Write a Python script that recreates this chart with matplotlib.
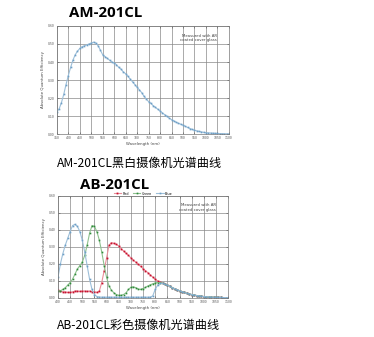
import numpy as np
import matplotlib
matplotlib.use("Agg")
import matplotlib.pyplot as plt

plt.rcParams['font.family'] = ['Noto Sans CJK SC', 'DejaVu Sans']

# mono camera, 350..1100 nm step 10
wl_mono = list(range(350, 1101, 10))
qe_mono = [0.125, 0.14, 0.175, 0.22, 0.275, 0.325, 0.37, 0.41, 0.44, 0.46,
           0.475, 0.485, 0.49, 0.495, 0.50, 0.505, 0.51, 0.505, 0.49, 0.465,
           0.44, 0.43, 0.42, 0.41, 0.40, 0.395, 0.385, 0.37, 0.36, 0.345,
           0.335, 0.32, 0.305, 0.29, 0.275, 0.26, 0.245, 0.23, 0.21, 0.195,
           0.18, 0.17, 0.158, 0.148, 0.138, 0.128, 0.118, 0.108, 0.098, 0.089,
           0.08, 0.073, 0.066, 0.06, 0.055, 0.05, 0.043, 0.037, 0.031, 0.026,
           0.022, 0.018, 0.015, 0.012, 0.01, 0.008, 0.007, 0.006, 0.005, 0.004,
           0.0035, 0.003, 0.0025, 0.002, 0.002, 0.0015]

# color camera, 400..1100 nm step 10
wl_col = list(range(400, 1101, 10))
tail = [0.075, 0.068, 0.061, 0.054, 0.048, 0.042, 0.037, 0.032, 0.027, 0.023,
        0.02, 0.017, 0.014, 0.012, 0.01, 0.008, 0.007, 0.006, 0.005, 0.004,
        0.004, 0.003, 0.003, 0.002, 0.002, 0.002]
qe_red = [0.045, 0.04, 0.035, 0.035, 0.032, 0.032, 0.035, 0.04, 0.04, 0.038,
          0.04, 0.04, 0.038, 0.04, 0.036, 0.036, 0.032, 0.04, 0.09, 0.16,
          0.235, 0.31, 0.325, 0.32, 0.315, 0.305, 0.29, 0.275, 0.262, 0.25,
          0.235, 0.222, 0.21, 0.197, 0.185, 0.172, 0.16, 0.148, 0.135, 0.122,
          0.11, 0.1, 0.093, 0.087, 0.08] + tail
qe_green = [0.04, 0.042, 0.05, 0.06, 0.075, 0.09, 0.11, 0.14, 0.17, 0.19,
            0.21, 0.25, 0.31, 0.38, 0.425, 0.42, 0.39, 0.34, 0.27, 0.19,
            0.12, 0.07, 0.045, 0.03, 0.02, 0.015, 0.015, 0.02, 0.03, 0.05,
            0.062, 0.065, 0.06, 0.052, 0.05, 0.055, 0.062, 0.07, 0.077, 0.083,
            0.088, 0.09, 0.09, 0.087, 0.08] + tail
qe_blue = [0.12, 0.2, 0.26, 0.31, 0.35, 0.39, 0.425, 0.432, 0.42, 0.39,
           0.34, 0.27, 0.19, 0.11, 0.05, 0.02, 0.008, 0.005, 0.004, 0.004,
           0.004, 0.004, 0.004, 0.004, 0.004, 0.004, 0.004, 0.004, 0.004, 0.004,
           0.004, 0.004, 0.004, 0.004, 0.004, 0.004, 0.004, 0.004, 0.004, 0.012,
           0.05, 0.075, 0.085, 0.085, 0.08] + tail

fig = plt.figure(figsize=(3.74, 3.37), dpi=100)


def style_axes(ax, xmin, xmax):
    ax.set_xlim(xmin, xmax)
    ax.set_ylim(0, 0.6)
    ax.set_xticks(range(xmin, xmax + 1, 50))
    ax.set_yticks(np.arange(0, 0.61, 0.1))
    ax.set_yticklabels(["%.2f" % v for v in np.arange(0, 0.61, 0.1)])
    ax.tick_params(labelsize=2.6, length=1.5, width=0.4, pad=1.5,
                   direction="in", top=True, right=True, colors="#555555")
    ax.grid(True, color="#888888", linewidth=0.5)
    for s in ax.spines.values():
        s.set_color("#777777")
        s.set_linewidth(0.5)
    ax.set_xlabel("Wavelength (nm)", fontsize=2.8, labelpad=1.5,
                  color="#444444", family="DejaVu Sans")
    ax.set_ylabel("Absolute Quantum Efficiency", fontsize=2.8, labelpad=2,
                  color="#444444", family="DejaVu Sans")
    ax.text(0.93, 0.93, "Measured with AR\ncoated cover glass",
            transform=ax.transAxes, ha="right", va="top", fontsize=2.8,
            color="#444444", family="DejaVu Sans")


# top chart
ax1 = fig.add_axes([0.152, 0.602, 0.460, 0.321])
ax1.plot(wl_mono, qe_mono, color="#9dbfd9", linewidth=0.8,
         marker="s", markersize=1.2, markerfacecolor="#6e9fc6",
         markeredgewidth=0)
style_axes(ax1, 350, 1100)
fig.text(0.184, 0.962, "AM-201CL", fontsize=10.8, fontweight="bold",
         family="Open Sans", ha="left", va="center")
fig.text(0.152, 0.516, "AM-201CL黑白摄像机光谱曲线", fontsize=8.7,
         ha="left", va="center")

# bottom chart
ax2 = fig.add_axes([0.155, 0.116, 0.455, 0.303])
ax2.plot(wl_col, qe_red, color="#e8909a", linewidth=0.8, marker="s",
         markersize=1.3, markerfacecolor="#c8102e", markeredgewidth=0,
         label="Red")
ax2.plot(wl_col, qe_green, color="#8fc08f", linewidth=0.8, marker="s",
         markersize=1.2, markerfacecolor="#2e8b3a", markeredgewidth=0,
         label="Green")
ax2.plot(wl_col, qe_blue, color="#9dbfd9", linewidth=0.8, marker="s",
         markersize=1.2, markerfacecolor="#6e9fc6", markeredgewidth=0,
         label="Blue")
style_axes(ax2, 400, 1100)
leg = ax2.legend(loc="lower center", bbox_to_anchor=(0.5, 0.985), ncol=3,
                 fontsize=2.6, frameon=False, handlelength=2,
                 columnspacing=1.2, handletextpad=0.4, borderpad=0)
fig.text(0.214, 0.452, "AB-201CL", fontsize=10.8, fontweight="bold",
         family="Open Sans", ha="left", va="center")
fig.text(0.152, 0.035, "AB-201CL彩色摄像机光谱曲线", fontsize=8.7,
         ha="left", va="center")

fig.savefig("out.png", dpi=100)
